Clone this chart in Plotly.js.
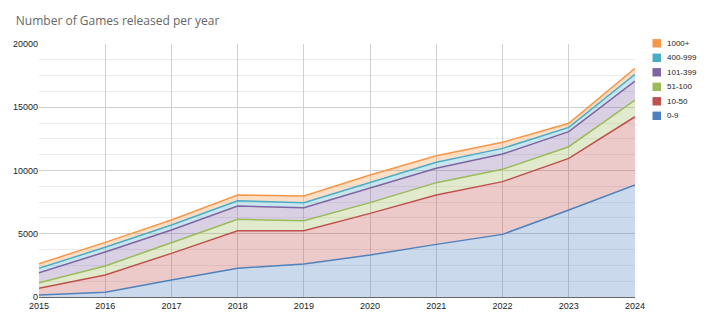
<!DOCTYPE html>
<html><head><meta charset="utf-8">
<script src="https://cdn.plot.ly/plotly-3.0.1.min.js"></script>
<style>html,body{margin:0;padding:0;background:#fff;}#chart{width:720px;height:326px;}</style>
</head><body><div id="chart"></div>
<script>
const years = [2015,2016,2017,2018,2019,2020,2021,2022,2023,2024];
const s0_9     = [150, 370, 1340, 2270, 2610, 3320, 4160, 4950, 6880, 8850];
const s10_50   = [540, 1370, 2110, 2970, 2630, 3290, 3900, 4170, 4080, 5400];
const s51_100  = [440, 710, 840, 900, 790, 850, 980, 970, 920, 1320];
const s101_399 = [790, 1110, 1010, 1050, 1030, 1130, 1130, 1210, 1190, 1500];
const s400_999 = [350, 370, 390, 420, 400, 470, 480, 450, 340, 530];
const s1000p   = [360, 390, 400, 450, 520, 580, 520, 480, 320, 480];
const names = ['0-9','10-50','51-100','101-399','400-999','1000+'];
const seriesList = [s0_9, s10_50, s51_100, s101_399, s400_999, s1000p];
const lineColors = ['#4F81BD','#C0504D','#9BBB59','#8064A2','#4BACC6','#F79646'];
const fillColors = ['rgba(79,129,189,0.30)','rgba(192,80,77,0.30)','rgba(155,187,89,0.30)','rgba(128,100,162,0.30)','rgba(75,172,198,0.30)','rgba(247,150,70,0.30)'];

const W = 720, H = 326;
const M = {l:39, r:85, t:44, b:29};
const pw = W - M.l - M.r, ph = H - M.t - M.b;
const px2x = p => (p - M.l) / pw;
const py2y = p => (H - M.b - p) / ph;

const traces = [];
seriesList.forEach((s,i)=>{
  traces.push({x: years, y: s, name: names[i], type:'scatter', mode:'lines',
    stackgroup:'one', line:{color:lineColors[i], width:1.5}, fillcolor: fillColors[i],
    showlegend:false, hoverinfo:'skip'});
});

// custom legend (top-down: 1000+ ... 0-9)
const shapes = [], annotations = [];
for (let k = 0; k < names.length; k++) {
  const i = names.length - 1 - k;
  const cy = 43.3 + k * 14.5;
  shapes.push({type:'rect', xref:'paper', yref:'paper',
    x0:px2x(652.5), x1:px2x(661), y0:py2y(cy+4.2), y1:py2y(cy-4.2),
    fillcolor:lineColors[i], line:{width:0}});
  annotations.push({xref:'paper', yref:'paper', x:px2x(665), y:py2y(cy), xanchor:'left', yanchor:'middle',
    text:names[i], showarrow:false, font:{size:8, color:'#222'}});
}

const layout = {
  width:W, height:H,
  margin:{l:M.l, r:M.r, t:M.t, b:M.b, autoexpand:false},
  paper_bgcolor:'#fff', plot_bgcolor:'#fff',
  title:{text:'Number of Games released per year', x:0.022, xanchor:'left', y:0.935, yanchor:'middle',
    font:{family:'Open Sans, Liberation Sans, sans-serif', size:12, color:'#666'}},
  font:{family:'Liberation Sans, Arial, sans-serif', size:9, color:'#222'},
  xaxis:{range:[2015,2024], tickmode:'linear', dtick:1, tick0:2015, showgrid:true, gridcolor:'#d0d0d0', gridwidth:1,
    zeroline:false, showline:true, linecolor:'#666', linewidth:1.2, ticks:'', tickfont:{size:9, color:'#222'}, fixedrange:true},
  yaxis:{range:[0,20000], tickmode:'linear', dtick:5000, tickformat:'d', showgrid:true, gridcolor:'#cfcfcf', gridwidth:1,
    minor:{dtick:1250, showgrid:true, gridcolor:'#ececec', gridwidth:1},
    zeroline:false, showline:false, ticks:'', tickfont:{size:9, color:'#222'}, fixedrange:true},
  shapes: shapes,
  annotations: annotations,
  showlegend:false
};
Plotly.newPlot('chart', traces, layout, {displayModeBar:false, staticPlot:true});
</script>
</body></html>
